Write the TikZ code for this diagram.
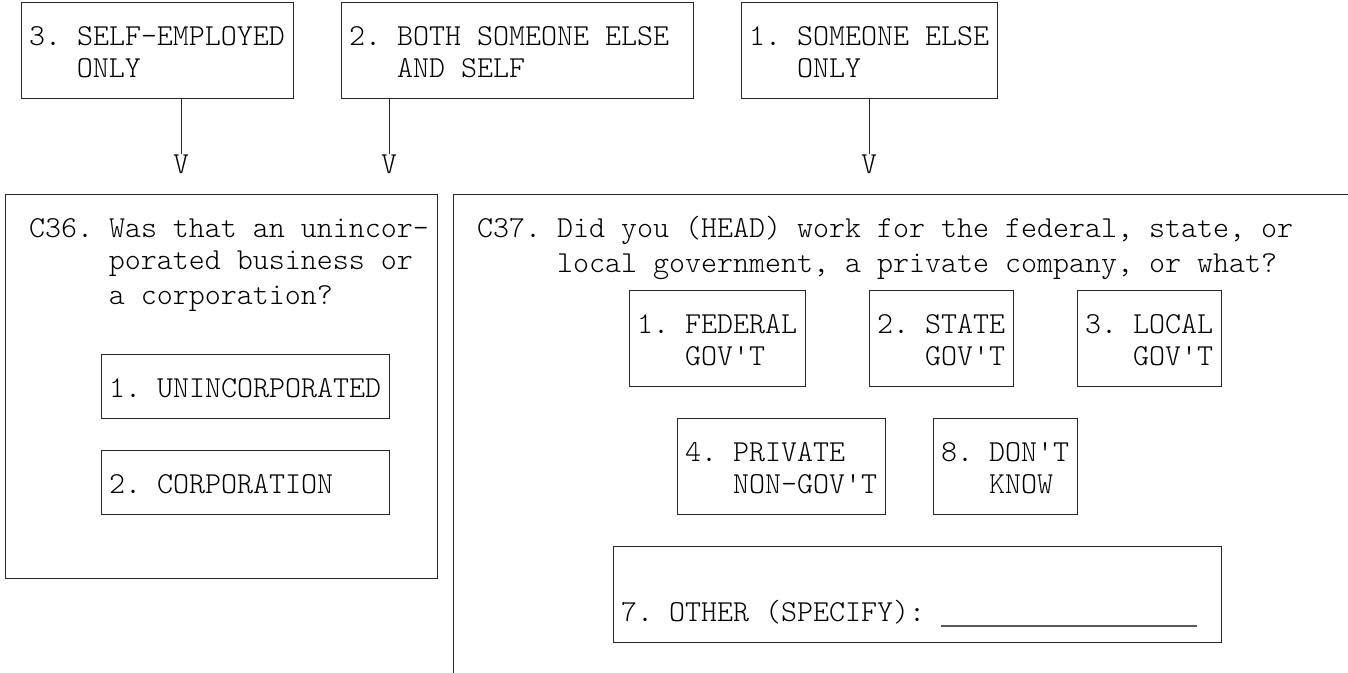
\documentclass[tikz,border=0pt]{standalone}
\usepackage{fontspec}
\setmonofont{Latin Modern Mono Light}
\newcommand\qs{\rule[-3.75pt]{0pt}{24pt}}
\newcommand\qbox[5]{\node[boxst, minimum width={(#4-#2)*0.75pt}, minimum height={(#5-#3)*0.75pt}] (#1) at ({(#2+#4)/2},{(#3+#5)/2}) {};}
\tikzset{
  boxst/.style={draw=black!85, line width=0.65pt, inner sep=0pt, outer sep=0pt, rectangle},
  txt/.style={anchor=north west, inner sep=0pt, outer sep=0pt, align=left,
    font=\ttfamily\frenchspacing\fontsize{22.857pt}{24pt}\selectfont},
  vtxt/.style={anchor=base, inner sep=0pt, outer sep=0pt,
    font=\ttfamily\fontsize{22.857pt}{24pt}\selectfont},
  conn/.style={draw=black!85, line width=0.65pt}
}
\begin{document}
\begin{tikzpicture}[x=0.75pt, y=-0.75pt]
\useasboundingbox (0,0) rectangle (1348,672);
\begin{scope}
\clip (0,0) rectangle (1348,672);
% top answer boxes
\qbox{b3}{21}{2}{293}{98}
\qbox{b2}{341}{2}{693}{98}
\qbox{b1}{741}{2}{997}{98}
\node[txt] (t3) at (29,18) {\qs 3. SELF-EMPLOYED\\\qs\hphantom{3. }ONLY};
\node[txt] (t2) at (349,18) {\qs 2. BOTH SOMEONE ELSE\\\qs\hphantom{2. }AND SELF};
\node[txt] (t1) at (749,18) {\qs 1. SOMEONE ELSE\\\qs\hphantom{1. }ONLY};
% arrow heads
\node[vtxt] (v3) at (181,173) {V};
\node[vtxt] (v2) at (389,173) {V};
\node[vtxt] (v1) at (869,173) {V};
\draw[conn] (b3.south -| v3.north) -- (v3.north);
\draw[conn] (b2.south -| v2.north) -- (v2.north);
\draw[conn] (b1.south -| v1.north) -- (v1.north);
% C36
\qbox{c36}{5}{194}{437}{578}
\node[txt] (tc36) at (29,210) {\qs C36. Was that an unincor-\\\qs\hphantom{C36. }porated business or\\\qs\hphantom{C36. }a corporation?};
\qbox{uninc}{101}{354}{389}{418}
\node[txt] (tuninc) at (109,370) {\qs 1. UNINCORPORATED};
\qbox{corp}{101}{450}{389}{514}
\node[txt] (tcorp) at (109,466) {\qs 2. CORPORATION};
% C37
\qbox{c37}{453}{194}{1380}{700}
\node[txt] (tc37) at (477,210) {\qs C37. Did you (HEAD) work for the federal, state, or\\\qs\hphantom{C37. }local government, a private company, or what?};
\qbox{fed}{629}{290}{805}{386}
\node[txt] (tfed) at (637,306) {\qs 1. FEDERAL\\\qs\hphantom{1. }GOV\textquotesingle T};
\qbox{state}{869}{290}{1013}{386}
\node[txt] (tstate) at (877,306) {\qs 2. STATE\\\qs\hphantom{2. }GOV\textquotesingle T};
\qbox{local}{1077}{290}{1221}{386}
\node[txt] (tlocal) at (1085,306) {\qs 3. LOCAL\\\qs\hphantom{3. }GOV\textquotesingle T};
\qbox{priv}{677}{418}{885}{514}
\node[txt] (tpriv) at (685,434) {\qs 4. PRIVATE\\\qs\hphantom{4. }NON-GOV\textquotesingle T};
\qbox{dk}{933}{418}{1077}{514}
\node[txt] (tdk) at (941,434) {\qs 8. DON\textquotesingle T\\\qs\hphantom{8. }KNOW};
\qbox{other}{613}{546}{1221}{642}
\node[txt] (tother) at (621,594) {\qs 7. OTHER (SPECIFY): {\color{black!65}\rule[-4.5pt]{192pt}{1.5pt}}};
\end{scope}
\end{tikzpicture}
\end{document}
